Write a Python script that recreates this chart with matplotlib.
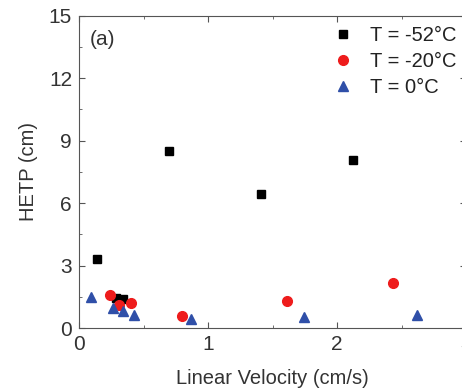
import matplotlib
matplotlib.use('Agg')
import matplotlib.pyplot as plt
from matplotlib.ticker import MultipleLocator

plt.rcParams['font.family'] = ['Liberation Sans', 'DejaVu Sans']

# data
v_m52 = [0.14, 0.29, 0.34, 0.70, 1.41, 2.12]
h_m52 = [3.3, 1.45, 1.38, 8.5, 6.45, 8.05]

v_m20 = [0.24, 0.31, 0.40, 0.80, 1.61, 2.43]
h_m20 = [1.6, 1.1, 1.22, 0.6, 1.3, 2.15]

v_0 = [0.09, 0.26, 0.34, 0.43, 0.87, 1.74, 2.62]
h_0 = [1.5, 0.98, 0.82, 0.62, 0.43, 0.54, 0.62]

labels = ['T = -52°C', 'T = -20°C', 'T = 0°C']

fig = plt.figure(figsize=(4.62, 3.92), dpi=100)
ax = fig.add_axes([0.171, 0.163, 0.838, 0.797])

ax.plot(v_m52, h_m52, 's', color='black', markersize=6, label=labels[0])
ax.plot(v_m20, h_m20, 'o', color='#ee1c1c', markersize=7, label=labels[1])
ax.plot(v_0, h_0, '^', color='#2f4fa8', markersize=7.5, label=labels[2])

ax.set_xlim(0, 3)
ax.set_ylim(0, 15)
ax.xaxis.set_major_locator(MultipleLocator(1))
ax.xaxis.set_minor_locator(MultipleLocator(0.5))
ax.yaxis.set_major_locator(MultipleLocator(3))
ax.yaxis.set_minor_locator(MultipleLocator(1.5))
ax.tick_params(which='both', direction='in', top=True, right=True,
               labelsize=15, labelcolor='#333333', color='#555555')
ax.tick_params(which='major', length=4, pad=5)
ax.tick_params(which='minor', length=2.5)
for s in ax.spines.values():
    s.set_color('#555555')

ax.set_xlabel('Linear Velocity (cm/s)', fontsize=14.5, color='#333333', labelpad=11)
ax.set_ylabel('HETP (cm)', fontsize=14.5, color='#333333', labelpad=8)
ax.text(0.027, 0.955, '(a)', transform=ax.transAxes, fontsize=15,
        va='top', color='#333333')

ax.legend(loc='upper left', bbox_to_anchor=(0.605, 1.025), frameon=False,
          fontsize=14.5, handletextpad=0.7, labelspacing=0.35, handlelength=1.2,
          labelcolor='#222222')

fig.savefig('out.png', dpi=100)
